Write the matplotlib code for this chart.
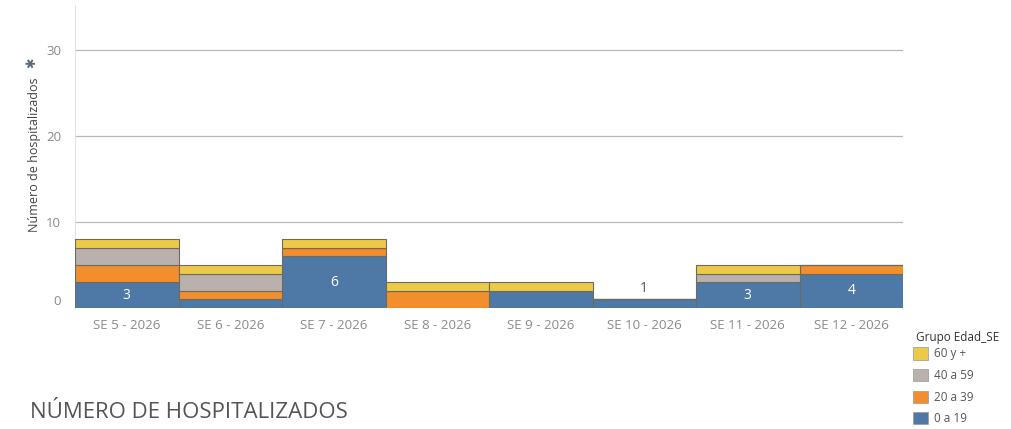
import numpy as np
import matplotlib.pyplot as plt
from matplotlib.patches import Patch

plt.rcParams['font.family'] = ['Open Sans', 'DejaVu Sans']

semanas = ["SE 5 - 2026", "SE 6 - 2026", "SE 7 - 2026", "SE 8 - 2026",
           "SE 9 - 2026", "SE 10 - 2026", "SE 11 - 2026", "SE 12 - 2026"]
grupos = ["0 a 19", "20 a 39", "40 a 59", "60 y +"]
g_0_19 = [3, 1, 6, 0, 2, 1, 3, 4]
g_20_39 = [2, 1, 1, 2, 0, 0, 0, 1]
g_40_59 = [2, 2, 0, 0, 0, 0, 1, 0]
g_60_mas = [1, 1, 1, 1, 1, 0, 1, 0]
# etiquetas visibles en el grupo 0 a 19 (None = oculta)
etiq_0_19 = ["3", None, "6", None, None, "1", "3", "4"]

colores = ["#4e79a7", "#f28e2b", "#bab0ac", "#edc948"]
borde = "#6e6a5e"
gris_texto = "#8a8a8a"

fig = plt.figure(figsize=(10.11, 4.29), dpi=100)
ax = fig.add_axes([75 / 1011, 1 - 308 / 429, (903 - 75) / 1011, 303 / 429])

x = np.arange(len(semanas))
base = np.zeros(len(semanas))
for vals, col in zip([g_0_19, g_20_39, g_40_59, g_60_mas], colores):
    vals = np.array(vals)
    ax.bar(x, vals, width=1.0, bottom=base, color=col, edgecolor=borde,
           linewidth=0.8, zorder=3)
    base += vals

for i, t in enumerate(etiq_0_19):
    if t is None:
        continue
    v = g_0_19[i]
    if v >= 2:
        ax.text(x[i], v / 2, t, ha="center", va="center", color="white",
                fontsize=10, zorder=4)
    else:
        ax.text(x[i], v + 0.4, t, ha="center", va="bottom", color="#555555",
                fontsize=10, zorder=4)

ax.set_xlim(-0.5, len(semanas) - 0.5)
ax.set_ylim(0, 35.2)
ax.set_yticks([0, 10, 20, 30])
ax.yaxis.grid(True, color="#b8b8b8", linewidth=0.9, zorder=0)
ax.set_xticks(x)
ax.set_xticklabels(semanas)
ax.tick_params(axis="both", length=0, colors=gris_texto, labelsize=9.5)
ax.tick_params(axis="x", pad=8)
ax.tick_params(axis="y", pad=10)
ax.get_yticklabels()[0].set_va("bottom")

for s in ["top", "right", "bottom"]:
    ax.spines[s].set_visible(False)
ax.spines["left"].set_color("#e4e4e4")
ax.spines["left"].set_linewidth(0.8)

ax.set_ylabel("Número de hospitalizados", fontsize=9, color="#444444")
ax.yaxis.set_label_coords(-0.041, 0.505)
# icono de "fijado" junto al título del eje
ax.text(-0.052, 0.81, "✱", transform=ax.transAxes, rotation=90,
        fontsize=9, color="#5a6a7a", ha="center", va="center",
        family="DejaVu Sans")

# leyenda: título aparte y filas con la leyenda de matplotlib
fig.text(916 / 1011, 1 - 337 / 429, "Grupo Edad_SE", fontsize=8.5,
         color="#333333", ha="left", va="center")
handles = [Patch(facecolor=c, edgecolor="#999999", linewidth=0.5)
           for c in colores[::-1]]
leg = fig.legend(handles, grupos[::-1], loc="upper left",
                 bbox_to_anchor=(904 / 1011, 1 - 338 / 429),
                 frameon=False, fontsize=8.5,
                 handlelength=1.2, handleheight=1.2, handletextpad=0.5,
                 labelspacing=0.72, borderpad=0.3)
for t in leg.get_texts():
    t.set_color("#555555")

fig.text(30 / 1011, 1 - 413 / 429, "NÚMERO DE HOSPITALIZADOS", fontsize=16,
         color="#555555", va="center", ha="left")

fig.savefig("out.png", dpi=100)
